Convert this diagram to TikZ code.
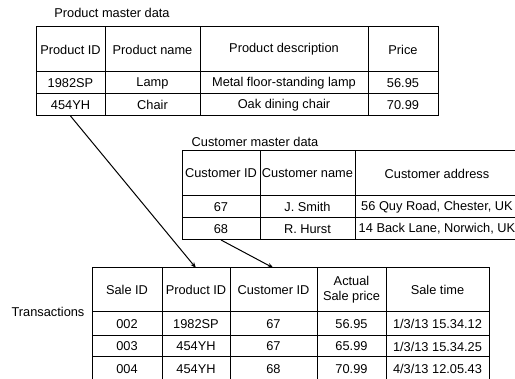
\documentclass[tikz,border=0pt]{standalone}
\usepackage{fontspec}
\setmainfont{Liberation Sans}
\usetikzlibrary{arrows.meta}
\tikzset{
  cell/.style={draw, line width=1pt, inner sep=0pt, outer sep=0pt, align=center,
    font=\fontsize{12.8}{15}\selectfont},
  title/.style={inner sep=0pt, font=\fontsize{12.8}{15}\selectfont},
  link/.style={line width=1pt, -{Stealth[length=6pt,width=4.5pt]}}
}
\newcommand\tcell[6]{\node[cell,minimum width={(#4-#2)*1pt},minimum height={(#5-#3)*1pt}] (#1) at ({(#2+#4)/2},{(#3+#5)/2}) {#6};}
\begin{document}
\begin{tikzpicture}[x=1pt,y=-1pt]
\clip (0,0) rectangle (515,379);
\fill[white] (0,0) rectangle (515,379);
% Product master data
\node[title] (ptitle) at (112,13) {Product master data};
\tcell{ph1}{36}{27}{105}{72}{Product ID}
\tcell{ph2}{105}{27}{200}{72}{Product name}
\tcell{ph3}{200}{27}{368}{72}{Product description}
\tcell{ph4}{368}{27}{438}{72}{Price}
\tcell{pa1}{36}{72}{105}{94}{1982SP}
\tcell{pa2}{105}{72}{200}{94}{Lamp}
\tcell{pa3}{200}{72}{368}{94}{Metal floor-standing lamp}
\tcell{pa4}{368}{72}{438}{94}{56.95}
\tcell{pb1}{36}{94}{105}{116}{454YH}
\tcell{pb2}{105}{94}{200}{116}{Chair}
\tcell{pb3}{200}{94}{368}{116}{Oak dining chair}
\tcell{pb4}{368}{94}{438}{116}{70.99}
% Customer master data
\node[title] (ctitle) at (255,142) {Customer master data};
\tcell{ch1}{182}{151}{260}{196}{Customer ID}
\tcell{ch2}{260}{151}{355}{196}{Customer name}
\tcell{ch3}{355}{151}{519}{196}{Customer address}
\tcell{ca1}{182}{196}{260}{218}{67}
\tcell{ca2}{260}{196}{355}{218}{J. Smith}
\tcell{ca3}{355}{196}{519}{218}{56 Quy Road, Chester, UK}
\tcell{cb1}{182}{218}{260}{240}{68}
\tcell{cb2}{260}{218}{355}{240}{R. Hurst}
\tcell{cb3}{355}{218}{519}{240}{14 Back Lane, Norwich, UK}
% Transactions
\node[title] (ttitle) at (48,312) {Transactions};
\tcell{th1}{92}{268}{162}{312}{Sale ID}
\tcell{th2}{162}{268}{230}{312}{Product ID}
\tcell{th3}{230}{268}{317}{312}{Customer ID}
\tcell{th4}{317}{268}{386}{312}{Actual\\Sale price}
\tcell{th5}{386}{268}{489}{312}{Sale time}
\tcell{ta1}{92}{312}{162}{336}{002}
\tcell{ta2}{162}{312}{230}{336}{1982SP}
\tcell{ta3}{230}{312}{317}{336}{67}
\tcell{ta4}{317}{312}{386}{336}{56.95}
\tcell{ta5}{386}{312}{489}{336}{1/3/13 15.34.12}
\tcell{tb1}{92}{336}{162}{357}{003}
\tcell{tb2}{162}{336}{230}{357}{454YH}
\tcell{tb3}{230}{336}{317}{357}{67}
\tcell{tb4}{317}{336}{386}{357}{65.99}
\tcell{tb5}{386}{336}{489}{357}{1/3/13 15.34.25}
\tcell{tc1}{92}{357}{162}{381}{004}
\tcell{tc2}{162}{357}{230}{381}{454YH}
\tcell{tc3}{230}{357}{317}{381}{68}
\tcell{tc4}{317}{357}{386}{381}{70.99}
\tcell{tc5}{386}{357}{489}{381}{4/3/13 12.05.43}
% links
\draw[link] (pb1.south) -- (th2.north);
\draw[link] (cb1.south) -- (th3.north);
\end{tikzpicture}
\end{document}
